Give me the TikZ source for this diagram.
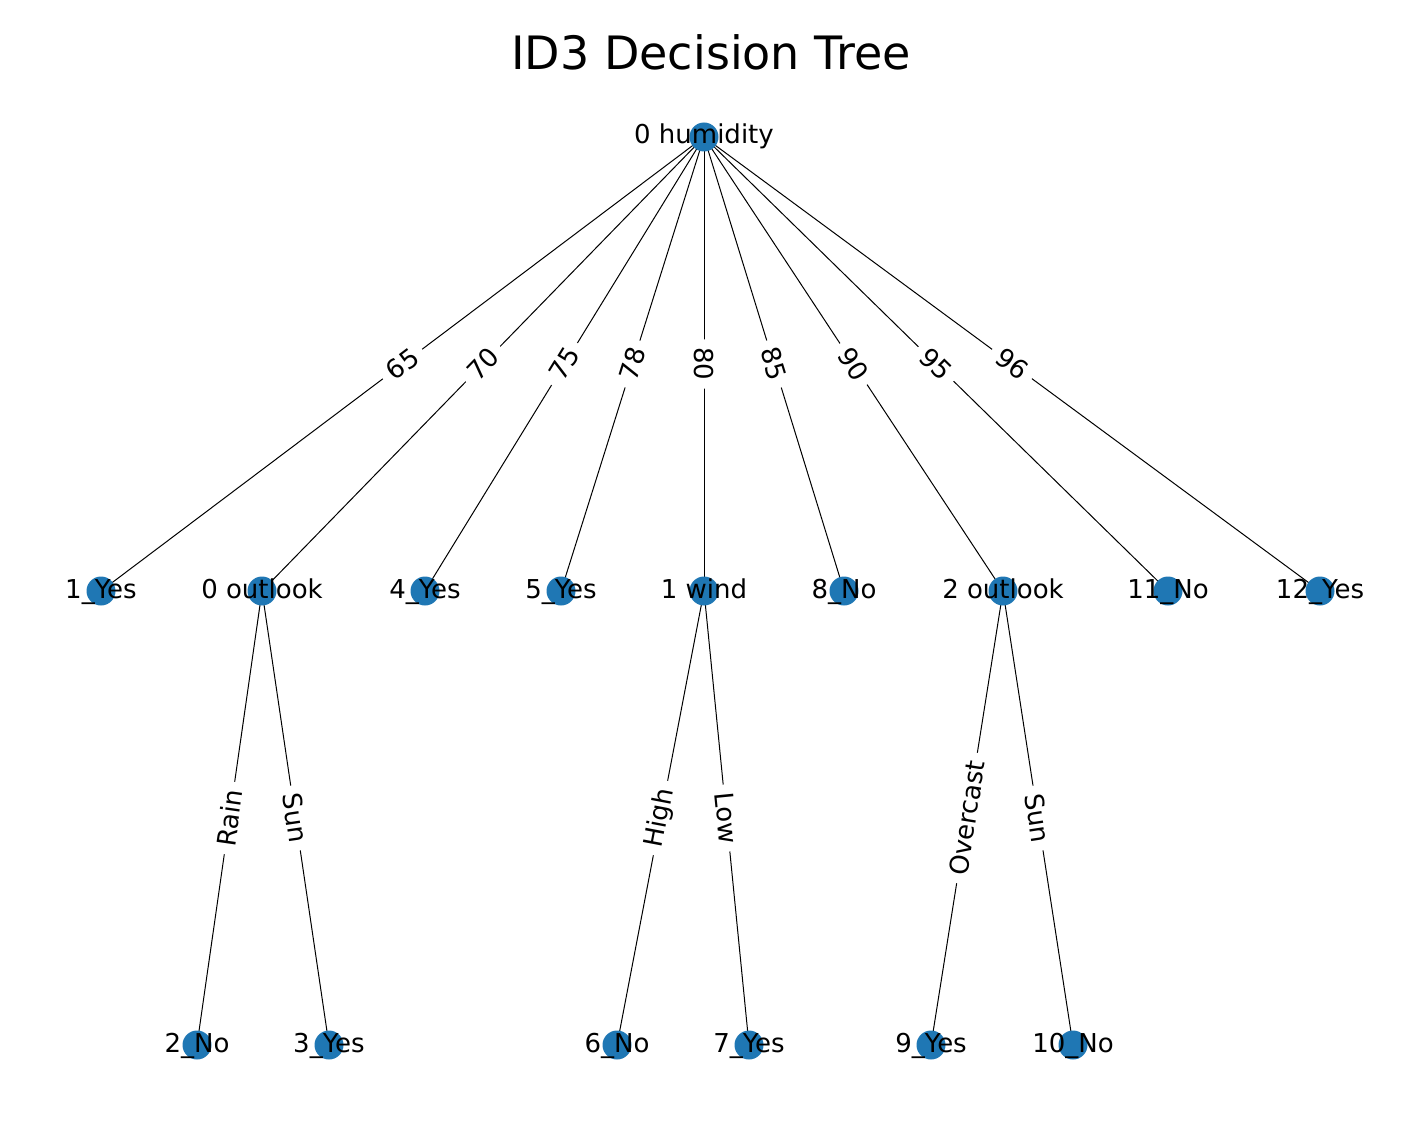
\documentclass[tikz,border=0pt]{standalone}
\usepackage{fontspec}
\setmainfont{DejaVu Sans}
\usepackage{xcolor}
\usetikzlibrary{backgrounds}

\definecolor{nodeblue}{HTML}{1F77B4}

\tikzset{
    vert/.style = {circle, fill = nodeblue, minimum size = 14.5pt, inner sep = 0pt},
    vtext/.style = {inner sep = 0pt, text height = 9.5pt, text depth = 2.5pt,
        font = \fontsize{13}{15}\selectfont},
    edge/.style = {line width = 0.5pt},
    elabel/.style = {midway, sloped, fill = white, rounded corners = 3pt,
        inner sep = 4pt, font = \fontsize{13}{15}\selectfont},
    heading/.style = {anchor = base, inner sep = 0pt,
        font = \fontsize{23}{27}\selectfont}
}

\begin{document}
\begin{tikzpicture}[x = 0.5pt, y = -0.5pt]
        \useasboundingbox (0, 0) rectangle (1427, 1123);

        \node[heading] (title) at (711, 70) {ID3 Decision Tree};

        % root
        \node[vert, label = {[vtext]center:0 humidity}] (hum) at (704, 137) {};

        % first level
        \node[vert, label = {[vtext]center:1\_Yes}] (yes1) at (101, 591) {};
        \node[vert, label = {[vtext]center:0 outlook}] (outl0) at (262, 591) {};
        \node[vert, label = {[vtext]center:4\_Yes}] (yes4) at (425, 591) {};
        \node[vert, label = {[vtext]center:5\_Yes}] (yes5) at (561, 591) {};
        \node[vert, label = {[vtext]center:1 wind}] (wind1) at (704, 591) {};
        \node[vert, label = {[vtext]center:8\_No}] (no8) at (844, 591) {};
        \node[vert, label = {[vtext]center:2 outlook}] (outl2) at (1003, 591) {};
        \node[vert, label = {[vtext]center:11\_No}] (no11) at (1168, 591) {};
        \node[vert, label = {[vtext]center:12\_Yes}] (yes12) at (1320, 591) {};

        % second level
        \node[vert, label = {[vtext]center:2\_No}] (no2) at (197, 1045) {};
        \node[vert, label = {[vtext]center:3\_Yes}] (yes3) at (329, 1045) {};
        \node[vert, label = {[vtext]center:6\_No}] (no6) at (617, 1045) {};
        \node[vert, label = {[vtext]center:7\_Yes}] (yes7) at (749, 1045) {};
        \node[vert, label = {[vtext]center:9\_Yes}] (yes9) at (931, 1045) {};
        \node[vert, label = {[vtext]center:10\_No}] (no10) at (1073, 1045) {};

        \begin{pgfonlayer}{background}
            \draw[edge] (hum.center) -- (yes1.center) node[elabel] {65};
            \draw[edge] (hum.center) -- (outl0.center) node[elabel] {70};
            \draw[edge] (hum.center) -- (yes4.center) node[elabel] {75};
            \draw[edge] (hum.center) -- (yes5.center) node[elabel] {78};
            \draw[edge] (hum.center) -- (wind1.center) node[elabel] {80};
            \draw[edge] (hum.center) -- (no8.center) node[elabel] {85};
            \draw[edge] (hum.center) -- (outl2.center) node[elabel] {90};
            \draw[edge] (hum.center) -- (no11.center) node[elabel] {95};
            \draw[edge] (hum.center) -- (yes12.center) node[elabel] {96};

            \draw[edge] (outl0.center) -- (no2.center) node[elabel] {Rain};
            \draw[edge] (outl0.center) -- (yes3.center) node[elabel] {Sun};
            \draw[edge] (wind1.center) -- (no6.center) node[elabel] {High};
            \draw[edge] (wind1.center) -- (yes7.center) node[elabel] {Low};
            \draw[edge] (outl2.center) -- (yes9.center) node[elabel] {Overcast};
            \draw[edge] (outl2.center) -- (no10.center) node[elabel] {Sun};
        \end{pgfonlayer}
    \end{tikzpicture}
\end{document}
